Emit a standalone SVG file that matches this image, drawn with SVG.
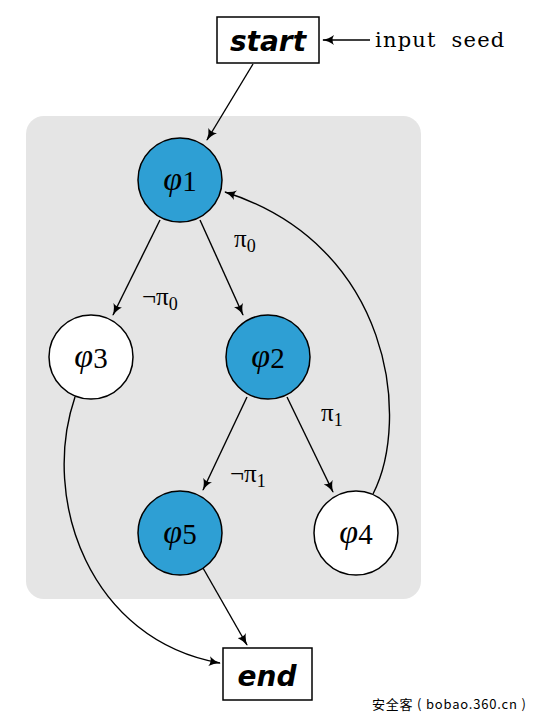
<svg xmlns="http://www.w3.org/2000/svg" width="542" height="722" viewBox="0 0 542 722">
<defs>
<marker id="arr" viewBox="0 0 12 10" refX="11" refY="5" markerWidth="12" markerHeight="10" markerUnits="userSpaceOnUse" orient="auto">
<path d="M0,0 Q5,4 12,5 Q5,6 0,10 Q3,5 0,0 Z" fill="#000"/>
</marker>
</defs>
<style>
.box{fill:#fff;stroke:#000;stroke-width:1.5}
.blue{fill:#2e9fd4;stroke:#000;stroke-width:1.5}
.white{fill:#fff;stroke:#000;stroke-width:1.5}
.kw{font-family:"DejaVu Sans","Liberation Sans",sans-serif;font-weight:bold;font-style:italic;font-size:28px;text-anchor:middle}
.phi{font-family:"Liberation Serif","DejaVu Serif",serif;font-style:italic;font-size:34px}
.sub{font-family:"Liberation Serif","DejaVu Serif",serif;font-style:normal;font-size:29px}
.lbl{font-family:"Liberation Serif","DejaVu Serif",serif;font-size:25px}
.s{font-size:18px}
.edge{fill:none;stroke:#000;stroke-width:1.4;marker-end:url(#arr)}
</style>
<rect x="26" y="116" width="395" height="483" rx="18" fill="#e5e5e5"/>
<g id="start">
<rect class="box" x="217" y="17" width="102" height="46"/>
<text class="kw" x="268" y="51">start</text>
</g>
<g id="input">
<text x="375" y="47" style="font-family:'DejaVu Serif',serif;font-size:21px;letter-spacing:1.2px;word-spacing:7px">input seed</text>
</g>
<g id="phi1">
<circle class="blue" cx="180" cy="180" r="42"/>
<text x="180" y="190" text-anchor="middle"><tspan class="phi">φ</tspan><tspan class="sub" dy="1">1</tspan></text>
</g>
<g id="phi3">
<circle class="white" cx="91" cy="357" r="42"/>
<text x="91" y="367" text-anchor="middle"><tspan class="phi">φ</tspan><tspan class="sub" dy="1">3</tspan></text>
</g>
<g id="phi2">
<circle class="blue" cx="268" cy="357" r="42"/>
<text x="268" y="367" text-anchor="middle"><tspan class="phi">φ</tspan><tspan class="sub" dy="1">2</tspan></text>
</g>
<g id="phi5">
<circle class="blue" cx="180" cy="533" r="42"/>
<text x="180" y="543" text-anchor="middle"><tspan class="phi">φ</tspan><tspan class="sub" dy="1">5</tspan></text>
</g>
<g id="phi4">
<circle class="white" cx="356" cy="533" r="42"/>
<text x="356" y="543" text-anchor="middle"><tspan class="phi">φ</tspan><tspan class="sub" dy="1">4</tspan></text>
</g>
<g id="end">
<rect class="box" x="223" y="648" width="89" height="52"/>
<text class="kw" x="267" y="686">end</text>
</g>
<g id="connectors">
<line class="edge" x1="370" y1="40" x2="323" y2="40"/>
<line class="edge" x1="253" y1="64" x2="207" y2="140"/>
<line class="edge" x1="160" y1="220" x2="113" y2="315"/>
<line class="edge" x1="200" y1="220" x2="243" y2="315"/>
<line class="edge" x1="247" y1="397" x2="203" y2="490"/>
<line class="edge" x1="287" y1="397" x2="333" y2="492"/>
<path class="edge" d="M373,494 C411,420 392,245 225,192"/>
<path class="edge" d="M75,397 C40,500 90,640 220,663"/>
<line class="edge" x1="203" y1="568" x2="247" y2="645"/>
<text class="lbl" x="234" y="247">π<tspan class="s" dy="5">0</tspan></text>
<text class="lbl" x="142" y="305">¬π<tspan class="s" dy="5">0</tspan></text>
<text class="lbl" x="230" y="482">¬π<tspan class="s" dy="5">1</tspan></text>
<text class="lbl" x="321" y="421">π<tspan class="s" dy="5">1</tspan></text>
</g>
<text x="372" y="709" style="font-family:'Noto Sans CJK SC',sans-serif;font-size:13px;letter-spacing:0.8px">安全客 ( bobao.360.cn )</text>
</svg>
